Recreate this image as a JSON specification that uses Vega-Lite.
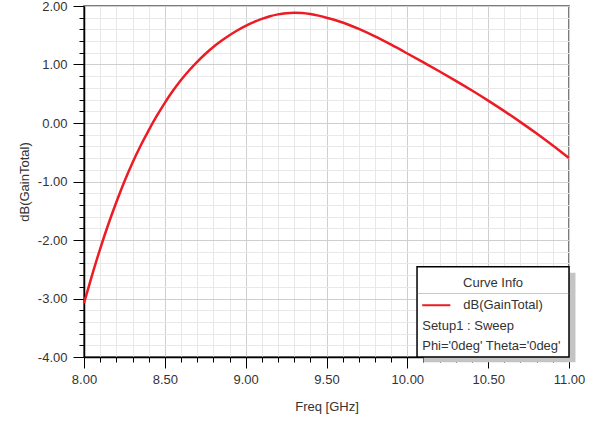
{
  "$schema": "https://vega.github.io/schema/vega-lite/v6.json",
  "width": 485,
  "height": 351,
  "autosize": {"type": "none"},
  "padding": {"left": 84, "top": 6, "right": 29, "bottom": 64},
  "background": "white",
  "config": {
    "font": "Liberation Sans",
    "view": {"stroke": "#505050", "strokeWidth": 1.5},
    "axis": {
      "labelFont": "Liberation Sans",
      "titleFont": "Liberation Sans",
      "labelFontSize": 13,
      "titleFontSize": 13,
      "titleFontWeight": "normal",
      "labelColor": "#333333",
      "titleColor": "#333333",
      "domainColor": "#000000",
      "domainWidth": 1.5,
      "tickColor": "#000000",
      "tickWidth": 1,
      "labelOverlap": false,
      "labelFlush": false,
      "tickCount": 100
    },
    "text": {"font": "Liberation Sans", "fontSize": 13, "color": "#333333"}
  },
  "layer": [
    {
      "data": {
        "values": [
          {"f": 8.0, "g": -3.08},
          {"f": 8.05, "g": -2.6},
          {"f": 8.1, "g": -2.15},
          {"f": 8.15, "g": -1.735},
          {"f": 8.2, "g": -1.355},
          {"f": 8.25, "g": -1.0},
          {"f": 8.3, "g": -0.68},
          {"f": 8.35, "g": -0.39},
          {"f": 8.4, "g": -0.125},
          {"f": 8.45, "g": 0.12},
          {"f": 8.5, "g": 0.345},
          {"f": 8.55, "g": 0.55},
          {"f": 8.6, "g": 0.735},
          {"f": 8.65, "g": 0.898},
          {"f": 8.7, "g": 1.045},
          {"f": 8.75, "g": 1.18},
          {"f": 8.8, "g": 1.3},
          {"f": 8.85, "g": 1.405},
          {"f": 8.9, "g": 1.5},
          {"f": 8.95, "g": 1.585},
          {"f": 9.0, "g": 1.66},
          {"f": 9.05, "g": 1.725},
          {"f": 9.1, "g": 1.78},
          {"f": 9.15, "g": 1.825},
          {"f": 9.2, "g": 1.857},
          {"f": 9.25, "g": 1.877},
          {"f": 9.3, "g": 1.885},
          {"f": 9.35, "g": 1.88},
          {"f": 9.4, "g": 1.862},
          {"f": 9.45, "g": 1.835},
          {"f": 9.5, "g": 1.8},
          {"f": 9.6, "g": 1.718},
          {"f": 9.7, "g": 1.608},
          {"f": 9.8, "g": 1.48},
          {"f": 9.9, "g": 1.338},
          {"f": 10.0, "g": 1.188},
          {"f": 10.1, "g": 1.035},
          {"f": 10.2, "g": 0.88},
          {"f": 10.3, "g": 0.72},
          {"f": 10.4, "g": 0.555},
          {"f": 10.5, "g": 0.383},
          {"f": 10.6, "g": 0.203},
          {"f": 10.7, "g": 0.015},
          {"f": 10.8, "g": -0.18},
          {"f": 10.9, "g": -0.385},
          {"f": 11.0, "g": -0.6}
        ]
      },
      "mark": {"type": "line", "color": "#ed1c24", "strokeWidth": 2.5, "interpolate": "monotone"},
      "encoding": {
        "x": {
          "field": "f",
          "type": "quantitative",
          "title": "Freq [GHz]",
          "scale": {"domain": [8, 11], "nice": false, "zero": false},
          "axis": {
            "values": [8.0, 8.1, 8.2, 8.3, 8.4, 8.5, 8.6, 8.7, 8.8, 8.9, 9.0, 9.1, 9.2, 9.3, 9.4, 9.5, 9.6, 9.7, 9.8, 9.9, 10.0, 10.1, 10.2, 10.3, 10.4, 10.5, 10.6, 10.7, 10.8, 10.9, 11.0],
            "tickCount": 100,
            "labelExpr": "abs(datum.value*2-round(datum.value*2))<0.001 ? format(datum.value,'.2f') : ''",
            "tickSize": {"condition": {"test": "abs(datum.value*2-round(datum.value*2))<0.001", "value": 11}, "value": 5},
            "gridColor": {"condition": {"test": "abs(datum.value*2-round(datum.value*2))<0.001", "value": "#cfcfcf"}, "value": "#e8e8e8"},
            "labelPadding": 5,
            "titlePadding": 14
          }
        },
        "y": {
          "field": "g",
          "type": "quantitative",
          "title": "dB(GainTotal)",
          "scale": {"domain": [-4, 2], "nice": false, "zero": false},
          "axis": {
            "values": [-4, -3.8, -3.6, -3.4, -3.2, -3, -2.8, -2.6, -2.4, -2.2, -2, -1.8, -1.6, -1.4, -1.2, -1, -0.8, -0.6, -0.4, -0.2, 0, 0.2, 0.4, 0.6, 0.8, 1, 1.2, 1.4, 1.6, 1.8, 2],
            "tickCount": 100,
            "labelExpr": "abs(datum.value-round(datum.value))<0.001 ? replace(format(datum.value,'.2f'), '\u2212', '-') : ''",
            "tickSize": {"condition": {"test": "abs(datum.value-round(datum.value))<0.001", "value": 11}, "value": 5},
            "gridColor": {"condition": {"test": "abs(datum.value-round(datum.value))<0.001", "value": "#cfcfcf"}, "value": "#e8e8e8"},
            "labelPadding": 6,
            "titlePadding": 6
          }
        }
      }
    },
    {
      "data": {"values": [{}]},
      "mark": {"type": "rect", "fill": "#c4c4c4"},
      "encoding": {
        "x": {"datum": 10.1, "type": "quantitative"},
        "x2": {"datum": 11.04},
        "y": {"datum": -2.56, "type": "quantitative"},
        "y2": {"datum": -4.09}
      }
    },
    {
      "data": {"values": [{}]},
      "mark": {"type": "rect", "fill": "#ffffff", "stroke": "#000000", "strokeWidth": 1.5},
      "encoding": {
        "x": {"datum": 10.06, "type": "quantitative"},
        "x2": {"datum": 11.0},
        "y": {"datum": -2.458, "type": "quantitative"},
        "y2": {"datum": -4.0}
      }
    },
    {
      "data": {"values": [{}]},
      "mark": {"type": "rule", "stroke": "#c8c8c8", "strokeWidth": 1},
      "encoding": {
        "x": {"datum": 10.065, "type": "quantitative"},
        "x2": {"datum": 10.995},
        "y": {"datum": -2.914, "type": "quantitative"}
      }
    },
    {
      "data": {"values": [{}]},
      "mark": {"type": "rule", "stroke": "#ed1c24", "strokeWidth": 2},
      "encoding": {
        "x": {"datum": 10.092, "type": "quantitative"},
        "x2": {"datum": 10.266},
        "y": {"datum": -3.115, "type": "quantitative"}
      }
    },
    {
      "data": {"values": [{}]},
      "mark": {"type": "text", "text": "Curve Info", "align": "center", "baseline": "middle"},
      "encoding": {
        "x": {"datum": 10.53, "type": "quantitative"},
        "y": {"datum": -2.738, "type": "quantitative"}
      }
    },
    {
      "data": {"values": [{}]},
      "mark": {"type": "text", "text": "dB(GainTotal)", "align": "left", "baseline": "middle"},
      "encoding": {
        "x": {"datum": 10.346, "type": "quantitative"},
        "y": {"datum": -3.115, "type": "quantitative"}
      }
    },
    {
      "data": {"values": [{}]},
      "mark": {"type": "text", "text": "Setup1 : Sweep", "align": "left", "baseline": "middle"},
      "encoding": {
        "x": {"datum": 10.092, "type": "quantitative"},
        "y": {"datum": -3.476, "type": "quantitative"}
      }
    },
    {
      "data": {"values": [{}]},
      "mark": {"type": "text", "text": "Phi='0deg' Theta='0deg'", "align": "left", "baseline": "middle"},
      "encoding": {
        "x": {"datum": 10.092, "type": "quantitative"},
        "y": {"datum": -3.819, "type": "quantitative"}
      }
    }
  ]
}
